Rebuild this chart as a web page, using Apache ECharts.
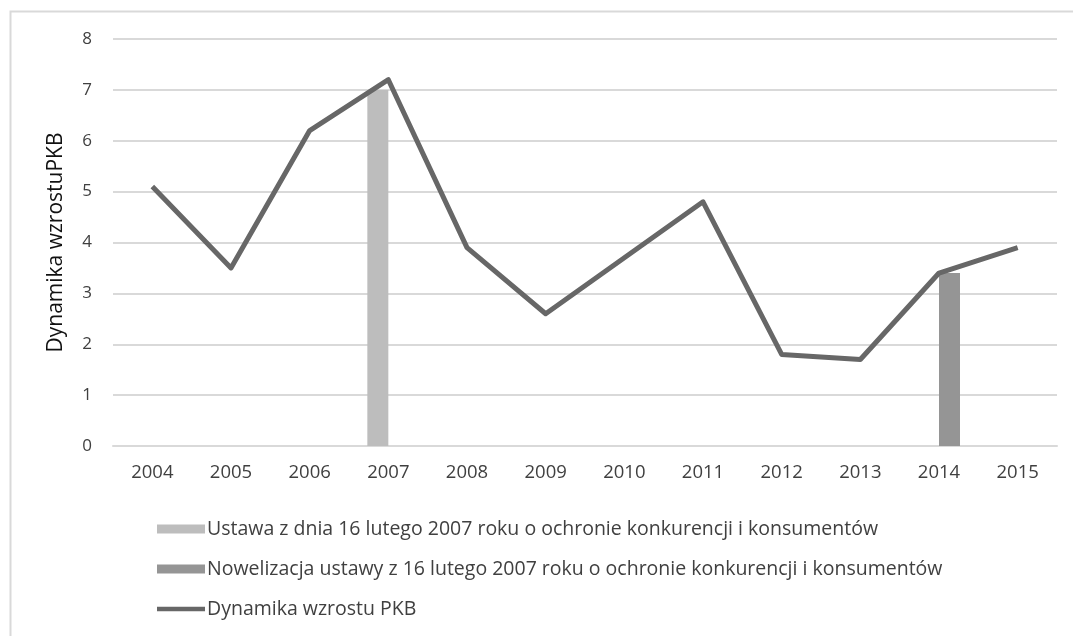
<!DOCTYPE html>
<html>
<head>
<meta charset="utf-8">
<title>Dynamika wzrostu PKB</title>
<script src="https://cdn.jsdelivr.net/npm/echarts@6/dist/echarts.min.js"></script>
<style>
  html, body { margin: 0; padding: 0; background: #fff; }
  #chart { width: 1073px; height: 636px; }
</style>
</head>
<body>
<div id="chart"></div>
<script>
// Years on the category axis
const years = ['2004', '2005', '2006', '2007', '2008', '2009', '2010', '2011', '2012', '2013', '2014', '2015'];
// GDP growth, percent
const gdpGrowth = [5.1, 3.5, 6.2, 7.2, 3.9, 2.6, 3.7, 4.8, 1.8, 1.7, 3.4, 3.9];
// Marker bars for the act (2007) and its amendment (2014)
const ustawa = [null, null, null, 7.0, null, null, null, null, null, null, null, null];
const nowelizacja = [null, null, null, null, null, null, null, null, null, null, 3.4, null];

const seriesNames = [
  'Ustawa z dnia 16 lutego 2007 roku o ochronie konkurencji i konsumentów',
  'Nowelizacja ustawy z 16 lutego 2007 roku o ochronie konkurencji i konsumentów',
  'Dynamika wzrostu PKB'
];
const yAxisTitle = 'Dynamika wzrostuPKB';

const FONT = '"Open Sans", "Noto Sans", sans-serif';
const LINE_COLOR = '#676767';
const chart = echarts.init(document.getElementById('chart'), null, { renderer: 'canvas' });

chart.setOption({
  animation: false,
  backgroundColor: '#ffffff',
  graphic: [{
    type: 'rect',
    silent: true,
    shape: { x: 10.5, y: 11.5, width: 1200, height: 800 },
    style: { fill: 'none', stroke: '#d9d9d9', lineWidth: 2 }
  }],
  grid: { left: 113, right: 16, top: 39, bottom: 190, containLabel: false },
  legend: {
    orient: 'vertical',
    left: 152,
    top: 513,
    itemWidth: 48,
    itemHeight: 9,
    itemGap: 18,
    textStyle: { fontFamily: FONT, fontSize: 19.5, color: '#404040', padding: [0, 0, 0, -3], lineHeight: 22 },
    data: [
      { name: seriesNames[0], icon: 'rect' },
      { name: seriesNames[1], icon: 'rect' },
      {
        name: seriesNames[2],
        // thick plain stroke as the line key
        icon: 'path://M0,0 L48,0 L48,4.5 L0,4.5 Z',
        itemStyle: { color: LINE_COLOR, borderWidth: 0 },
        lineStyle: { width: 0 }
      }
    ]
  },
  xAxis: {
    type: 'category',
    data: years,
    axisLine: { show: true, lineStyle: { color: '#d9d9d9', width: 2 } },
    axisTick: { show: false },
    axisLabel: { fontFamily: FONT, fontSize: 18.5, color: '#404040', margin: 17 }
  },
  yAxis: {
    type: 'value',
    min: 0,
    max: 8,
    interval: 1,
    name: yAxisTitle,
    nameLocation: 'middle',
    nameGap: 46,
    nameTextStyle: { fontFamily: FONT, fontSize: 21, color: '#111' },
    axisLine: { show: false },
    axisTick: { show: false },
    axisLabel: { fontFamily: FONT, fontSize: 17, color: '#404040', margin: 21 },
    splitLine: { lineStyle: { color: '#d9d9d9', width: 2 } }
  },
  series: [
    {
      name: seriesNames[0],
      type: 'bar',
      data: ustawa,
      barWidth: 21,
      barGap: '0%',
      itemStyle: { color: '#bdbdbd' }
    },
    {
      name: seriesNames[1],
      type: 'bar',
      data: nowelizacja,
      barWidth: 21,
      barGap: '0%',
      itemStyle: { color: '#959595' }
    },
    {
      name: seriesNames[2],
      type: 'line',
      data: gdpGrowth,
      symbol: 'none',
      lineStyle: { color: LINE_COLOR, width: 5, join: 'round' },
      itemStyle: { color: LINE_COLOR },
      z: 3
    }
  ]
});
</script>
</body>
</html>
